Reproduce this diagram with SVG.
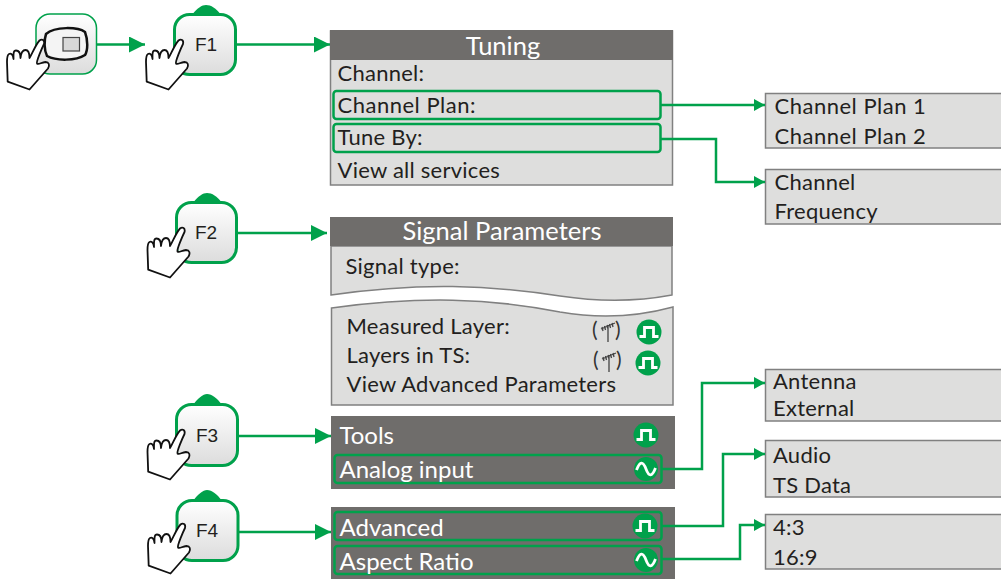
<svg xmlns="http://www.w3.org/2000/svg" xmlns:xlink="http://www.w3.org/1999/xlink" width="1001" height="579" viewBox="0 0 1001 579">
<style>
text{font-family:"Lato","Open Sans",sans-serif;font-size:22px;fill:#231f20;letter-spacing:.25px}
.w{fill:#fff;font-size:24px;letter-spacing:0}
.wide{letter-spacing:.5px}
.par{font-size:21px;letter-spacing:0;fill:#333}
.key{font-family:"Liberation Sans",sans-serif;font-size:19px;text-anchor:middle;letter-spacing:0}
.hd{font-size:25.500px;text-anchor:middle;fill:#fff;letter-spacing:0}
.box{fill:#dededd;stroke:#808080;stroke-width:1.5}
.dark{fill:#6f6d6b}
.hl{fill:none;stroke:#00a14b;stroke-width:2.5}
.conn{fill:none;stroke:#00a14b;stroke-width:2.5}
.node{fill:url(#g);stroke:#00a14b;stroke-width:3}
.bump{fill:#00a14b}
.dot{fill:#00a14b}
.sig{fill:none;stroke:#fff;stroke-width:2.8}
.ant{fill:none;stroke:#444;stroke-width:1.3}
.hand{fill:#fff;stroke:#111;stroke-width:1.8;stroke-linejoin:round}
</style>
<defs>
<linearGradient id="g" x1="0" y1="0" x2="0" y2="1"><stop offset="0" stop-color="#fff"/><stop offset="1" stop-color="#dcdcdc"/></linearGradient>
<marker id="a" markerUnits="userSpaceOnUse" markerWidth="11" markerHeight="13" refX="11" refY="6" orient="auto"><path d="M0 0L11 6L0 12Z" fill="#00a14b"/></marker>
<marker id="b" markerUnits="userSpaceOnUse" markerWidth="16" markerHeight="17" refX="16" refY="8" orient="auto"><path d="M0 0L16 8L0 16Z" fill="#00a14b"/></marker>
<path id="hand" class="hand" d="M146.700 81.700L168.500 89.500L187 68.500C189 65 188 62 184.500 62C180 62.500 177.500 65 176 63.500C175 62 181 48 183 44C184 40 181 38.500 178.500 40.500C175 44 171 54 168.500 58C168.500 53 167.500 50 164.500 50C161.500 50 160 53 159.500 58C159.500 52.500 158 50.500 155 50.500C152 50.500 152.500 55 152.500 59C152 54.500 150 53 148 54C146 55 146 58 146 62Z"/>
<path id="sq" class="sig" d="M-9.500 4.500H-4.500V-4.500H4.500V4.500H9.500"/>
<path id="sn" class="sig" d="M-9.500 1C-6 -8 -3 -8 0 0C3 8 6 8 9.500 -1"/>
<g id="an" class="ant"><path d="M0 -7V10M-7 -3L7 -9M-6 -5L-5 -1M-3.500 -6L-2.500 -2M-1 -7L0 -3M1.500 -8L2.500 -4M4 -9L5 -5"/></g>
</defs>

<g id="remote">
<rect x="36" y="14" width="60.500" height="60" rx="14" fill="url(#g)" stroke="#00a14b" stroke-width="1.500"/>
<path d="M46 34C55 26 78 27 85 32C88 40 88 50 85 55C76 61 56 61 47 56C44 50 44 40 46 34Z" fill="#f4f4f4" stroke="#111" stroke-width="2.500"/>
<rect x="63" y="37.500" width="16.500" height="13.500" fill="#d8d8d8" stroke="#444" stroke-width="1.200"/>
<use xlink:href="#hand" href="#hand" transform="translate(-139 0)"/>
</g>
<g id="f1">
<path class="bump" d="M192 15C197 8 202 5 206 5C211 5 216 8 221 15Z"/>
<rect class="node" x="174.500" y="14.500" width="61" height="60" rx="15"/>
<text class="key" x="206" y="51">F1</text>
<use xlink:href="#hand" href="#hand"/>
</g>
<g id="f2">
<path class="bump" d="M193 203C198 196 203 193 207 193C212 193 217 196 222 203Z"/>
<rect class="node" x="176.500" y="202.500" width="60" height="60" rx="15"/>
<text class="key" x="206" y="239">F2</text>
<use xlink:href="#hand" href="#hand" transform="translate(1.500 188)"/>
</g>
<g id="f3">
<path class="bump" d="M193 405C198 398 203 394 207 394C212 394 217 398 222 405Z"/>
<rect class="node" x="176.500" y="404.500" width="61" height="61" rx="15"/>
<text class="key" x="207" y="442">F3</text>
<use xlink:href="#hand" href="#hand" transform="translate(1.500 390)"/>
</g>
<g id="f4">
<path class="bump" d="M193 501C198 494 203 490 207 490C212 490 217 494 222 501Z"/>
<rect class="node" x="177" y="500.500" width="61" height="60" rx="15"/>
<text class="key" x="207" y="537">F4</text>
<use xlink:href="#hand" href="#hand" transform="translate(2 484)"/>
</g>

<g id="tuning">
<rect class="box" x="330.500" y="31" width="342" height="154"/>
<rect class="dark" x="330" y="30" width="343" height="30"/>
<text class="hd" x="503" y="55">Tuning</text>
<text x="337.500" y="81">Channel:</text>
<rect class="hl" x="333.500" y="91" width="327" height="28" rx="3"/>
<text class="wide" x="337.500" y="113">Channel Plan:</text>
<rect class="hl" x="333.500" y="124" width="327" height="28" rx="3"/>
<text x="337.500" y="145">Tune By:</text>
<text x="337.500" y="178">View all services</text>
</g>

<g id="signal">
<path class="box" d="M331 246H672V295C640 301 600 302 560 296C490 285 420 282 331 295Z"/>
<rect class="dark" x="330" y="217" width="343" height="29"/>
<text class="hd" x="502" y="240">Signal Parameters</text>
<text x="345.500" y="274">Signal type:</text>
<path class="box" d="M331.500 308C420 296 490 298 560 312C600 319 640 316 673 307V405H331.500Z"/>
<text x="346.500" y="334">Measured Layer:</text>
<text x="346.500" y="363">Layers in TS:</text>
<text x="346.500" y="392">View Advanced Parameters</text>
<text class="par" x="592" y="337">(</text><text class="par" x="615" y="337">)</text>
<use xlink:href="#an" href="#an" transform="translate(608 332)"/>
<circle class="dot" cx="649" cy="332" r="12.500"/><use xlink:href="#sq" href="#sq" transform="translate(649 332)"/>
<text class="par" x="593" y="367">(</text><text class="par" x="616" y="367">)</text>
<use xlink:href="#an" href="#an" transform="translate(609 362)"/>
<circle class="dot" cx="648" cy="363" r="12.500"/><use xlink:href="#sq" href="#sq" transform="translate(648 363)"/>
</g>

<g id="tools">
<rect class="dark" x="331" y="416" width="344" height="73"/>
<text class="w" x="339.500" y="443.500">Tools</text>
<circle class="dot" cx="646" cy="435" r="12.500"/><use xlink:href="#sq" href="#sq" transform="translate(646 435)"/>
<rect class="hl" x="334.500" y="455" width="327" height="28" rx="3"/>
<text class="w" x="339.500" y="477.500">Analog input</text>
<circle class="dot" cx="646" cy="469" r="12"/><use xlink:href="#sn" href="#sn" transform="translate(646 469)"/>
</g>
<g id="advanced">
<rect class="dark" x="331" y="507" width="344" height="72"/>
<rect class="hl" x="334.500" y="512" width="327" height="28" rx="3"/>
<text class="w" x="339.500" y="535.500">Advanced</text>
<circle class="dot" cx="645" cy="526" r="12.500"/><use xlink:href="#sq" href="#sq" transform="translate(645 526)"/>
<rect class="hl" x="334.500" y="546" width="327" height="28" rx="3"/>
<text class="w" x="339.500" y="569.500">Aspect Ratio</text>
<circle class="dot" cx="646" cy="560" r="12"/><use xlink:href="#sn" href="#sn" transform="translate(646 560)"/>
</g>

<g id="plan-list"><rect class="box" x="765.500" y="93.500" width="240" height="54.500"/><text class="wide" x="774.500" y="113.500">Channel Plan 1</text><text class="wide" x="774.500" y="143.500">Channel Plan 2</text></g>
<g id="tune-list"><rect class="box" x="765.500" y="169.500" width="240" height="54.500"/><text x="774.500" y="190">Channel</text><text x="774.500" y="219">Frequency</text></g>
<g id="input-list"><rect class="box" x="765.500" y="369.500" width="240" height="51.500"/><text x="773" y="389">Antenna</text><text x="773" y="416">External</text></g>
<g id="adv-list"><rect class="box" x="765.500" y="440.500" width="240" height="56.500"/><text x="773" y="463">Audio</text><text x="773" y="492.500">TS Data</text></g>
<g id="ratio-list"><rect class="box" x="765.500" y="514.500" width="240" height="54.500"/><text x="773" y="535">4:3</text><text x="773" y="565">16:9</text></g>

<g id="connectors">
<path class="conn" d="M97 44.500H145" marker-end="url(#b)"/>
<path class="conn" d="M236 44.500H330" marker-end="url(#b)"/>
<path class="conn" d="M237 233H327" marker-end="url(#b)"/>
<path class="conn" d="M238 436H331" marker-end="url(#b)"/>
<path class="conn" d="M238 532H331" marker-end="url(#b)"/>
<path class="conn" d="M661 105H765" marker-end="url(#a)"/>
<path class="conn" d="M661 139H716V182H765" marker-end="url(#a)"/>
<path class="conn" d="M662 469H702V383H765" marker-end="url(#a)"/>
<path class="conn" d="M662 526H723V454H765" marker-end="url(#a)"/>
<path class="conn" d="M662 559H740V525H765" marker-end="url(#a)"/>
</g>
</svg>
